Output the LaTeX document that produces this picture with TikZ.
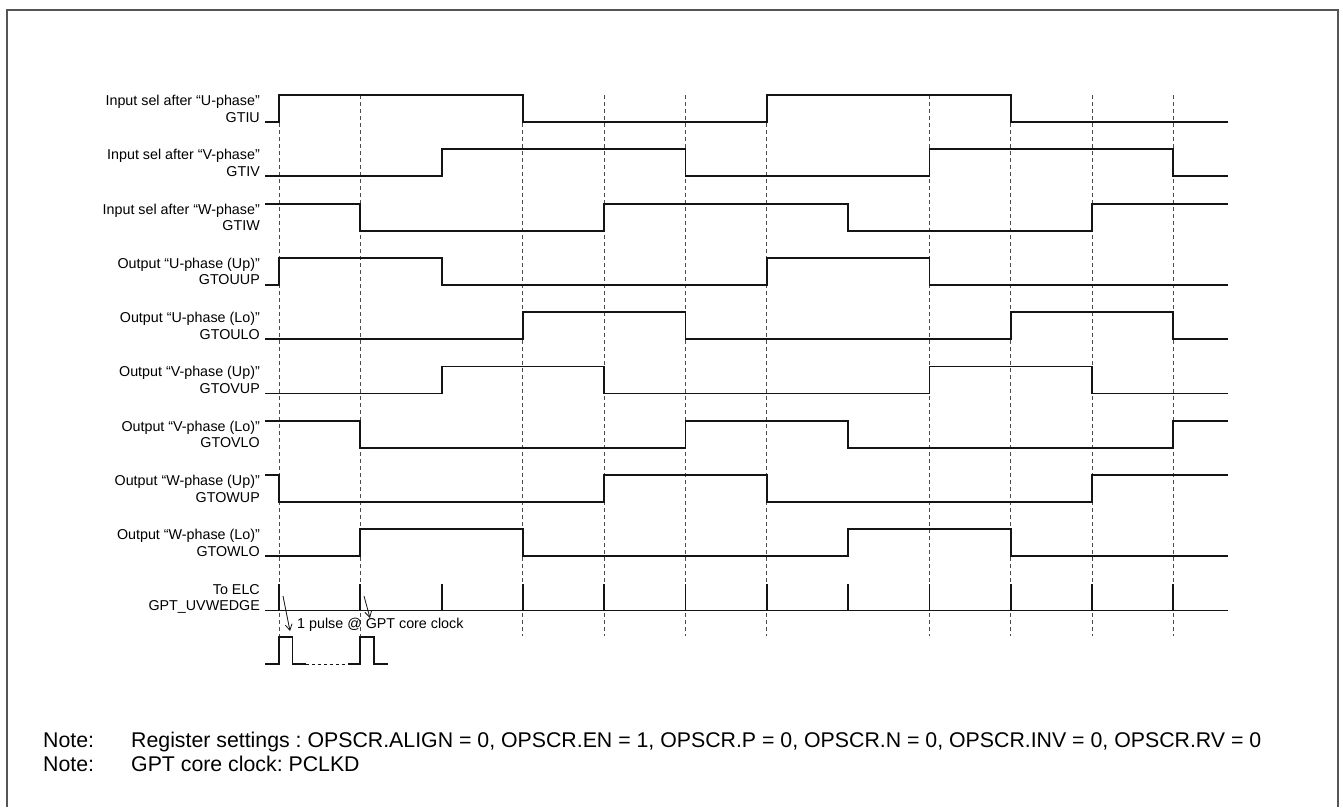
\documentclass[tikz,border=0pt]{standalone}
\usepackage{fontspec}
\setmainfont{Liberation Sans}
\usepackage{xcolor}
\usepackage{tikz}
\usetikzlibrary{arrows.meta, positioning}
\frenchspacing
\definecolor{sigdark}{RGB}{20,20,20}
\definecolor{griddark}{RGB}{75,75,75}
\definecolor{framegray}{RGB}{85,85,85}
\tikzset{
  wave/.style={line width=1.8pt, color=sigdark, line join=miter},
  gridline/.style={dashed, dash pattern=on 4pt off 3pt, line width=0.9pt, color=griddark},
  siglabel/.style={anchor=base east, align=right, inner sep=0pt,
    font=\fontsize{14.3}{16.5}\selectfont},
  notetext/.style={anchor=base west, inner sep=0pt,
    font=\fontsize{21.3}{24}\selectfont},
  pulsetext/.style={anchor=base west, inner sep=0pt,
    font=\fontsize{14.3}{16.5}\selectfont},
  pulsearrow/.style={-{Straight Barb[length=6pt, width=7pt]}, line width=0.8pt, color=sigdark},
  frameline/.style={line width=1.5pt, color=framegray}
}

\begin{document}
\begin{tikzpicture}[x=1pt, y=-1pt]
  \useasboundingbox (0,0) rectangle (1343,807);
  % Frame
  \draw[frameline] (7,807) |- (1338,10) -- (1338,807);

  % Timing grid
  \draw[gridline] (279,95) -- (279,636);
  \draw[gridline] (360.3,95) -- (360.3,636);
  \draw[gridline] (522.9,95) -- (522.9,636);
  \draw[gridline] (604.2,95) -- (604.2,636);
  \draw[gridline] (685.5,95) -- (685.5,636);
  \draw[gridline] (766.8,95) -- (766.8,636);
  \draw[gridline] (929.4,95) -- (929.4,636);
  \draw[gridline] (1010.7,95) -- (1010.7,636);
  \draw[gridline] (1092,95) -- (1092,636);
  \draw[gridline] (1173.3,95) -- (1173.3,636);

  % Signal names
  \node[siglabel] (lgtiu) at (260,122) {Input sel after “U-phase”\\GTIU};
  \node[siglabel] (lgtiv) at (260,176.3) {Input sel after “V-phase”\\GTIV};
  \node[siglabel] (lgtiw) at (260,230.6) {Input sel after “W-phase”\\GTIW};
  \node[siglabel] (luup) at (260,284.8) {Output “U-phase (Up)”\\GTOUUP};
  \node[siglabel] (lulo) at (260,339.1) {Output “U-phase (Lo)”\\GTOULO};
  \node[siglabel] (lvup) at (260,393.4) {Output “V-phase (Up)”\\GTOVUP};
  \node[siglabel] (lvlo) at (260,447.7) {Output “V-phase (Lo)”\\GTOVLO};
  \node[siglabel] (lwup) at (260,502) {Output “W-phase (Up)”\\GTOWUP};
  \node[siglabel] (lwlo) at (260,556.2) {Output “W-phase (Lo)”\\GTOWLO};
  \node[siglabel] (lelc) at (260,610.5) {To ELC\\GPT\_UVWEDGE};

  % Input selections
  \draw[wave] (265,122) -| (279,95) -| (522.9,122) -| (766.8,95) -| (1010.7,122) -- (1228,122);
  \draw[wave] (265,176.3) -| (441.6,149.3) -| (685.5,176.3) -| (929.4,149.3) -| (1173.3,176.3) -- (1228,176.3);
  \draw[wave] (265,203.6) -| (360.3,230.6) -| (604.2,203.6) -| (848.1,230.6) -| (1092,203.6) -- (1228,203.6);

  % Outputs
  \draw[wave] (265,284.8) -| (279,257.8) -| (441.6,284.8) -| (766.8,257.8) -| (929.4,284.8) -- (1228,284.8);
  \draw[wave] (265,339.1) -| (522.9,312.1) -| (685.5,339.1) -| (1010.7,312.1) -| (1173.3,339.1) -- (1228,339.1);
  \draw[wave] (265,393.4) -| (441.6,366.4) -| (604.2,393.4) -| (929.4,366.4) -| (1092,393.4) -- (1228,393.4);
  \draw[wave] (265,420.7) -| (360.3,447.7) -| (685.5,420.7) -| (848.1,447.7) -| (1173.3,420.7) -- (1228,420.7);
  \draw[wave] (265,475) -| (279,502) -| (604.2,475) -| (766.8,502) -| (1092,475) -- (1228,475);
  \draw[wave] (265,556.2) -| (360.3,529.2) -| (522.9,556.2) -| (848.1,529.2) -| (1010.7,556.2) -- (1228,556.2);

  % Edge pulses to ELC
  \draw[wave] (265,610.5) -- (1228,610.5);
  \draw[wave] (279,610.5) -- ++(0,-27) (360.3,610.5) -- ++(0,-27)
    (441.6,610.5) -- ++(0,-27) (522.9,610.5) -- ++(0,-27)
    (604.2,610.5) -- ++(0,-27) (685.5,610.5) -- ++(0,-27)
    (766.8,610.5) -- ++(0,-27) (848.1,610.5) -- ++(0,-27)
    (929.4,610.5) -- ++(0,-27) (1010.7,610.5) -- ++(0,-27)
    (1092,610.5) -- ++(0,-27) (1173.3,610.5) -- ++(0,-27);

  % Zoomed pulse
  \draw[wave] (265,664) -| (279,637) -| (292.5,664) -- (306,664);
  \draw[wave, dashed, line width=1pt] (306,664) -- (348,664);
  \draw[wave] (348,664) -| (360.3,637) -| (374,664) -- (388,664);
  \coordinate (pa1) at (283,596);
  \coordinate (pa2) at (290,631);
  \coordinate (pb1) at (364,596);
  \coordinate (pb2) at (370,618);
  \draw[pulsearrow] (pa1) -- (pa2);
  \draw[pulsearrow] (pb1) -- (pb2);
  \node[pulsetext] (ptxt) at (297,628) {1 pulse @ GPT core clock};

  % Notes
  \node[notetext] (note1) at (43,747) {Note:};
  \node[notetext] (reg1) at (131,747) {Register settings : OPSCR.ALIGN = 0, OPSCR.EN = 1, OPSCR.P = 0, OPSCR.N = 0, OPSCR.INV = 0, OPSCR.RV = 0};
  \node[notetext] (note2) at (43,771) {Note:};
  \node[notetext] (reg2) at (131,771) {GPT core clock: PCLKD};
\end{tikzpicture}
\end{document}
